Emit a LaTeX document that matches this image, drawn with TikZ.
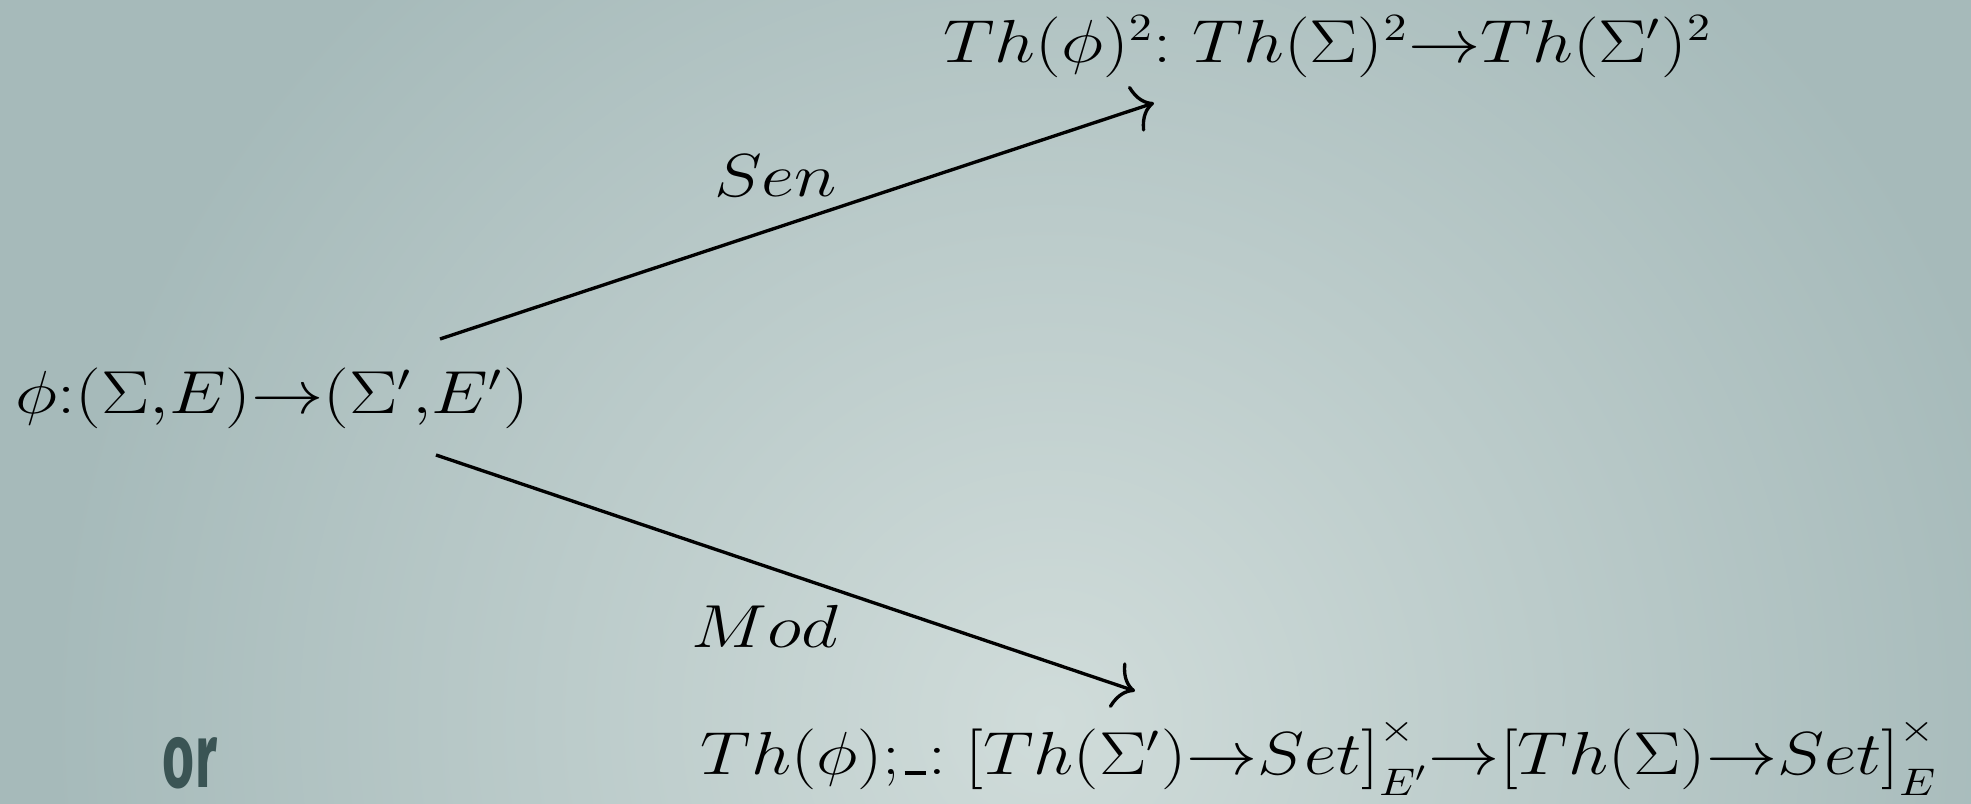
\documentclass[tikz,border=0pt]{standalone}
\usepackage{fontspec}
\usepackage{graphicx}
\usetikzlibrary{arrows.meta, positioning, calc}
\newfontfamily\orfont{Fira Sans}[FakeStretch=0.6]
\newcommand\shortbar{\kern.06em\vbox{\hrule width.32em height.07em}\kern.04em}
\newcommand\wide[2][1.19]{\scalebox{#1}[1]{#2}}
\definecolor{bgdark}{RGB}{166,186,186}
\definecolor{bglight}{RGB}{208,220,218}
\definecolor{orcol}{RGB}{58,84,84}

\begin{document}
\begin{tikzpicture}[x=0.01cm, y=-0.01cm,
    term/.style={inner sep=0pt, anchor=base west, font=\fontsize{16}{20}\selectfont},
    lbl/.style={inner sep=0pt, font=\fontsize{16}{20}\selectfont},
    arrow/.style={line width=0.95pt, -{Computer Modern Rightarrow[length=2mm, width=4.8mm]}}
]
% background
\fill[bgdark] (0,0) rectangle (1971,804);
\begin{scope}
  \clip (0,0) rectangle (1971,804);
  \shade[inner color=bglight, outer color=bgdark] (1050,720) circle [radius=10cm];
\end{scope}
\useasboundingbox (0,0) rectangle (1971,804);

\node[term] (lhs) at (15,414) {\wide{$\phi{:}(\Sigma{,}E){\rightarrow}(\Sigma'{,}E')$}};
\node[term] (sen) at (943,63) {\wide{$Th(\phi)^2{:}\;Th(\Sigma)^2{\rightarrow}Th(\Sigma')^2$}};
\node[term] (mod) at (700,775) {\wide[1.17]{$Th(\phi){;}\shortbar{:}\;[Th(\Sigma'){\rightarrow}Set]^{\raisebox{.2em}{$\scriptstyle\times$}}_{\raisebox{-.1em}{$\scriptstyle E'$}}{\rightarrow}[Th(\Sigma){\rightarrow}Set]^{\raisebox{.2em}{$\scriptstyle\times$}}_{\raisebox{-.1em}{$\scriptstyle E$}}$}};
\node[font=\orfont\bfseries\fontsize{26}{30}\selectfont, text=orcol, inner sep=0pt, anchor=base] (or) at (190,788) {or};

\draw[arrow] ($(lhs.base west)+(425,-75)$) -- node[lbl, pos=0.47, above=0.3cm] {\wide{$Sen$}} ($(sen.base west)+(211,40)$);
\draw[arrow] ($(lhs.base west)+(421,41)$) -- node[lbl, pos=0.47, below=0.38cm] {\wide{$Mod$}} ($(mod.base west)+(435,-84)$);
\end{tikzpicture}
\end{document}
